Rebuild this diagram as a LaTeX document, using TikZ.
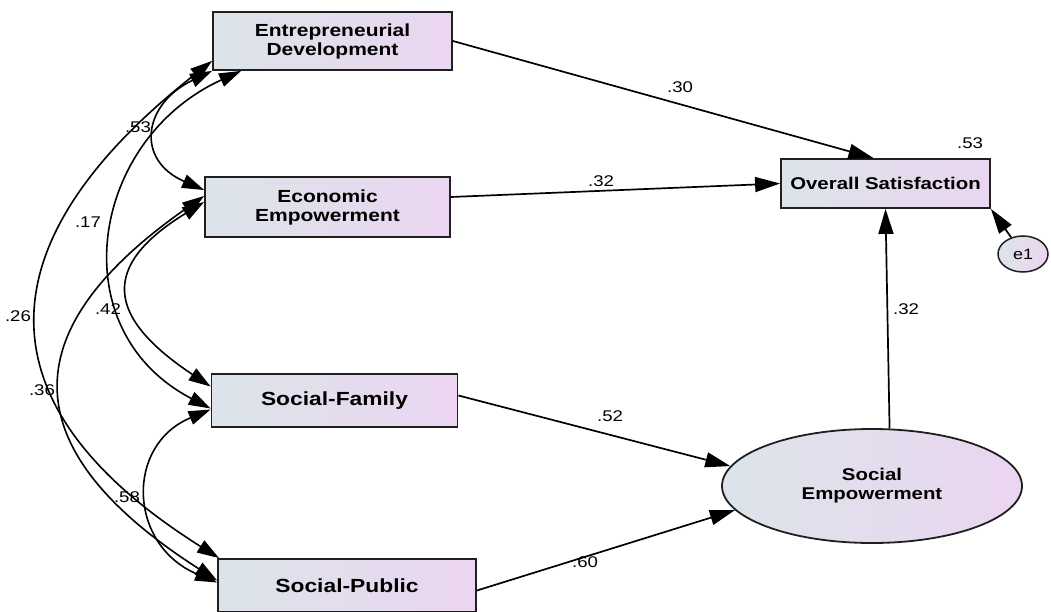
\documentclass[tikz,border=0pt]{standalone}
\usepackage{fontspec}
\setmainfont{Liberation Sans}[FakeStretch=1.2]
\usepackage{xcolor}
\usepackage{tikz}
\usetikzlibrary{arrows.meta}
\usetikzlibrary{calc}
\usetikzlibrary{shapes.geometric}

\definecolor{boxleft}{HTML}{DCE4EA}
\definecolor{boxright}{HTML}{EBD5F0}

\tikzset{
  var/.style={draw=black!88, line width=1.8pt, left color=boxleft, right color=boxright,
    align=center, inner sep=0pt},
  twoline/.style={font=\fontsize{17.5}{19}\selectfont\bfseries},
  oneline/.style={font=\fontsize{19}{21}\selectfont\bfseries},
  latent/.style={var, ellipse, font=\fontsize{17}{19}\selectfont\bfseries},
  err/.style={ellipse, draw=black!88, line width=1.5pt, left color=boxleft, right color=boxright,
    inner sep=0pt, minimum width=50pt, minimum height=36pt, font=\fontsize{15}{15}\selectfont},
  effect/.style={line width=1.7pt, -{Triangle[length=25pt,width=15pt]}},
  covar/.style={line width=1.6pt, {Triangle[length=22pt,width=14pt]}-{Triangle[length=22pt,width=14pt]}},
  coef/.style={font=\fontsize{15.5}{15.5}\selectfont, inner sep=0pt}
}

\begin{document}
\begin{tikzpicture}[x=1pt,y=-1pt]
  \useasboundingbox (0,0) rectangle (1051,612);
  % exogenous variables
  \node[var, twoline, minimum width=239pt, minimum height=58pt] (ed) at (332.5,41) {Entrepreneurial\\Development};
  \node[var, twoline, minimum width=245pt, minimum height=60pt] (ee) at (327.5,207) {Economic\\Empowerment};
  \node[var, oneline, minimum width=246pt, minimum height=53pt] (sf) at (334.5,400.5) {Social-Family};
  \node[var, oneline, minimum width=258pt, minimum height=53pt] (sp) at (347,585.5) {Social-Public};
  % outcome side
  \node[var, font=\fontsize{17}{19}\selectfont\bfseries, minimum width=209pt, minimum height=49pt] (os) at (885.5,183.5) {Overall Satisfaction};
  \node[latent, minimum width=300pt, minimum height=114pt] (se) at (872,486) {Social\\Empowerment};
  \node[err] (e1) at (1023,254) {e1};

  % paths
  \draw[effect] (ed.east) -- ($(os.north)+(-12,0)$);
  \draw[effect] ($(ee.east)+(0,-10)$) -- (os.west);
  \draw[effect] ($(sf.east)+(0,-5)$) -- (se.172);
  \draw[effect] ($(sp.east)+(0,5)$) -- (se.190);
  \draw[effect] (se.73) -- (os.south);
  \draw[effect] (e1) -- (os.south east);

  % correlations
  \draw[covar] (ed.south west) .. controls (143,104) and (135,160) .. ($(ee.west)+(0,-17)$);
  \draw[covar] ($(ed.south west)+(0,-10)$) .. controls (-16,240) and (-26,404) .. ($(sp.north west)+(2,0)$);
  \draw[covar] ($(ed.south west)+(29,0)$) .. controls (90,140) and (60,330) .. ($(sf.west)+(0,8)$);
  \draw[covar] ($(ee.west)+(0,-5)$) .. controls (100,266) and (106,317) .. ($(sf.west)+(0,-14)$);
  \draw[covar] ($(ee.west)+(0,-11)$) .. controls (9,332) and (15,451) .. ($(sp.west)+(0,-5)$);
  \draw[covar] ($(sf.west)+(0,9)$) .. controls (125,445) and (128,545) .. ($(sp.west)+(0,-3)$);

  % estimates
  \node[coef] (p1) at (680,87) {.30};
  \node[coef] (p2) at (601,181) {.32};
  \node[coef] (p3) at (610,416) {.52};
  \node[coef] (p4) at (585,562) {.60};
  \node[coef] (p5) at (906,309) {.32};
  \node[coef] (r1) at (970,143) {.53};
  \node[coef] (c1) at (138,127) {.53};
  \node[coef] (c2) at (88,222) {.17};
  \node[coef] (c3) at (18,316) {.26};
  \node[coef] (c4) at (108,309) {.42};
  \node[coef] (c5) at (42,390) {.36};
  \node[coef] (c6) at (127,497) {.58};
\end{tikzpicture}
\end{document}
